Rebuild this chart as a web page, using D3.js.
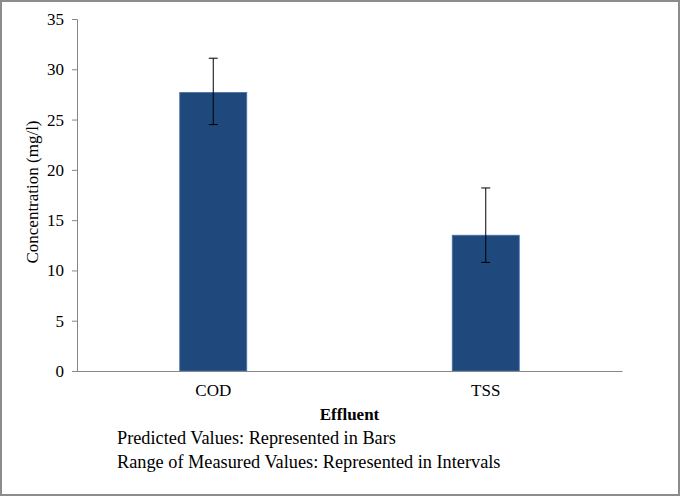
<!DOCTYPE html>
<html>
<head>
<meta charset="utf-8">
<script src="https://cdn.jsdelivr.net/npm/d3@7"></script>
<style>
  html, body { margin: 0; padding: 0; background: #fff; }
</style>
</head>
<body>
<div id="chart"></div>
<script>
// values
const categories = ["COD", "TSS"];
const predicted = [27.7, 13.5];
const measuredLow = [24.5, 10.8];
const measuredHigh = [31.1, 18.2];
const yTicks = [0, 5, 10, 15, 20, 25, 30, 35];
const notes = ["Predicted Values: Represented in Bars", "Range of Measured Values: Represented in Intervals"];

const FONT = "'Liberation Serif', 'Times New Roman', Times, 'DejaVu Serif', serif";
const width = 680, height = 496;
const margin = {top: 19, right: 58, bottom: 125, left: 77};
const innerW = width - margin.left - margin.right;
const innerH = height - margin.top - margin.bottom;

const svg = d3.select("#chart").append("svg")
  .attr("width", width)
  .attr("height", height);

// outer frame
svg.append("rect")
  .attr("x", 1).attr("y", 1)
  .attr("width", width - 2).attr("height", height - 2)
  .attr("fill", "#fff")
  .attr("stroke", "#8c8c8c")
  .attr("stroke-width", 2);

const g = svg.append("g")
  .attr("transform", `translate(${margin.left},${margin.top})`);

const x = d3.scaleBand().domain(categories).range([0, innerW]).padding(0);
const y = d3.scaleLinear().domain([0, 35]).range([innerH, 0]);
const barW = x.bandwidth() * 0.246;

// y axis
const yAxis = g.append("g")
  .call(d3.axisLeft(y).tickValues(yTicks).tickSize(5).tickPadding(8));
yAxis.select(".domain").attr("stroke", "#868686");
yAxis.selectAll(".tick line").attr("stroke", "#868686");
yAxis.selectAll(".tick text")
  .style("font-family", FONT)
  .style("font-size", "17px");

// bars
g.selectAll("rect.bar")
  .data(categories)
  .join("rect")
  .attr("class", "bar")
  .attr("x", d => x(d) + x.bandwidth() / 2 - barW / 2)
  .attr("y", (d, i) => y(predicted[i]))
  .attr("width", barW)
  .attr("height", (d, i) => y(0) - y(predicted[i]))
  .attr("fill", "#1f497d")
  .attr("stroke", "#4a74a8")
  .attr("stroke-width", 0.8);

// error bars
const err = g.selectAll("g.err")
  .data(categories)
  .join("g")
  .attr("class", "err")
  .attr("transform", d => `translate(${x(d) + x.bandwidth() / 2},0)`)
  .attr("stroke", "#000")
  .attr("stroke-width", 1);
err.append("line")
  .attr("y1", (d, i) => y(measuredLow[i]))
  .attr("y2", (d, i) => y(measuredHigh[i]));
err.append("line")
  .attr("x1", -4.5).attr("x2", 4.5)
  .attr("y1", (d, i) => y(measuredHigh[i]))
  .attr("y2", (d, i) => y(measuredHigh[i]));
err.append("line")
  .attr("x1", -4.5).attr("x2", 4.5)
  .attr("y1", (d, i) => y(measuredLow[i]))
  .attr("y2", (d, i) => y(measuredLow[i]));

// x axis
const xAxis = g.append("g")
  .attr("transform", `translate(0,${innerH})`)
  .call(d3.axisBottom(x).tickSize(0).tickPadding(13));
xAxis.select(".domain").attr("stroke", "#868686");
xAxis.selectAll(".tick text")
  .style("font-family", FONT)
  .style("font-size", "17px");

// axis titles
svg.append("text")
  .attr("transform", `translate(38,192) rotate(-90)`)
  .attr("text-anchor", "middle")
  .style("font-family", FONT)
  .style("font-size", "17px")
  .text("Concentration (mg/l)");

svg.append("text")
  .attr("x", margin.left + innerW / 2)
  .attr("y", 420)
  .attr("text-anchor", "middle")
  .style("font-family", FONT)
  .style("font-size", "17px")
  .style("font-weight", "bold")
  .text("Effluent");

// notes below
svg.selectAll("text.note")
  .data(notes)
  .join("text")
  .attr("class", "note")
  .attr("x", 117)
  .attr("y", (d, i) => 444 + i * 24)
  .style("font-family", FONT)
  .style("font-size", "18.3px")
  .text(d => d);
</script>
</body>
</html>
